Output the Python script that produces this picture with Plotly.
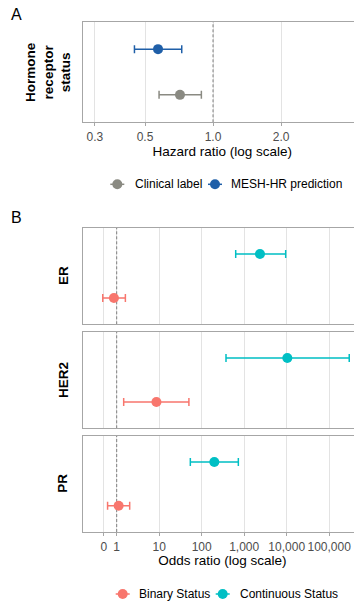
import numpy as np
import plotly.graph_objects as go

# ---- data ----
# Panel A: hazard ratios
a_labels = ["Clinical label", "MESH-HR prediction"]
a_hr = [0.714, 0.571]
a_lo = [0.577, 0.449]
a_hi = [0.888, 0.727]
a_colors = ["#8a8a82", "#1f5fa8"]
a_ticks = [0.3, 0.5, 1.0, 2.0]
a_ticktext = ["0.3", "0.5", "1.0", "2.0"]

# Panel B: odds ratios
b_facets = ["ER", "HER2", "PR"]
b_series = ["Binary Status", "Continuous Status"]
b_or = {"Binary Status": [0.86, 8.6, 1.11], "Continuous Status": [2350, 10350, 198]}
b_lo = {"Binary Status": [0.47, 1.46, 0.61], "Continuous Status": [631, 373, 54]}
b_hi = {"Binary Status": [1.6, 50, 2.02], "Continuous Status": [9460, 296000, 728]}
b_colors = {"Binary Status": "#F8766D", "Continuous Status": "#00BFC4"}
b_ticks = [0.5, 1, 10, 100, 1000, 10000, 100000]
b_ticktext = ["0", "1", "10", "100", "1,000", "10,000", "100,000"]
ref_value = 1

# figure is slightly wider than the window so panels run off the right edge like the reference
H, W = 601, 362
FONT = "Liberation Sans, Arial, sans-serif"


def ydom(top, bot):
    return [1 - bot / H, 1 - top / H]


fig = go.Figure()
axes = [("x", "y"), ("x2", "y2"), ("x3", "y3"), ("x4", "y4")]

# dashed reference line at 1 (drawn first, under points)
for xr, yr in axes:
    fig.add_trace(go.Scatter(x=[ref_value, ref_value], y=[0.4, 2.6], mode="lines",
                             line=dict(color="#808080", width=1, dash="3px,2px"),
                             xaxis=xr, yaxis=yr, showlegend=False, hoverinfo="skip"))

# Panel A traces (y positions: clinical = 1 bottom, MESH = 2 top)
for i, lab in enumerate(a_labels):
    fig.add_trace(go.Scatter(
        x=[a_hr[i]], y=[i + 1], mode="markers", name=lab,
        marker=dict(color=a_colors[i], size=10),
        error_x=dict(type="data", symmetric=False,
                     array=[a_hi[i] - a_hr[i]], arrayminus=[a_hr[i] - a_lo[i]],
                     color=a_colors[i], thickness=1.5, width=4),
        xaxis="x", yaxis="y", showlegend=False,
    ))

# Panel B traces
for f, facet in enumerate(b_facets):
    ax = f + 2
    for s, ser in enumerate(b_series):
        fig.add_trace(go.Scatter(
            x=[b_or[ser][f]], y=[s + 1], mode="markers", name=ser,
            marker=dict(color=b_colors[ser], size=10),
            error_x=dict(type="data", symmetric=False,
                         array=[b_hi[ser][f] - b_or[ser][f]],
                         arrayminus=[b_or[ser][f] - b_lo[ser][f]],
                         color=b_colors[ser], thickness=1.5, width=4),
            xaxis=f"x{ax}", yaxis=f"y{ax}", showlegend=False,
        ))

# custom legend keys on a hidden full-page overlay axis (pixel coordinates)
legend_items = [
    (a_labels[0], a_colors[0], 117.3, 132.7, 184.3),
    (a_labels[1], a_colors[1], 215.0, 228.7, 184.3),
    (b_series[0], b_colors[b_series[0]], 122.7, 137.0, 594.0),
    (b_series[1], b_colors[b_series[1]], 222.7, 237.7, 594.0),
]
for lab, col, mx, tx, yy in legend_items:
    fig.add_trace(go.Scatter(x=[mx - 7, mx + 7], y=[yy, yy], mode="lines",
                             line=dict(color=col, width=1.5),
                             xaxis="x5", yaxis="y5", showlegend=False, hoverinfo="skip"))
    fig.add_trace(go.Scatter(x=[mx], y=[yy], mode="markers",
                             marker=dict(color=col, size=10),
                             xaxis="x5", yaxis="y5", showlegend=False, hoverinfo="skip"))

xdom = [82.7 / W, 1.0]
common_x = dict(type="log", showgrid=True, gridcolor="#e3e3e3", gridwidth=1,
                showline=True, linecolor="#a6a6a6", linewidth=1.2, mirror=True,
                ticks="outside", ticklen=3, tickcolor="#a6a6a6", tickangle=0,
                tickfont=dict(size=12, color="#4d4d4d", family=FONT),
                zeroline=False, domain=xdom, tickmode="array", automargin=False)
common_y = dict(range=[0.4, 2.6], showticklabels=False, showgrid=False,
                showline=True, linecolor="#a6a6a6", linewidth=1.2, mirror=False,
                zeroline=False, ticks="", automargin=False)

lay = dict(
    width=W, height=H, margin=dict(l=0, r=0, t=0, b=0, autoexpand=False),
    paper_bgcolor="white", plot_bgcolor="rgba(0,0,0,0)", showlegend=False,
    font=dict(family=FONT, color="black"),
)
# px/decade: A ~226, B ~42.5
lay["xaxis"] = dict(common_x, range=[np.log10(0.265), (W - 213.0) / 226.0],
                    tickvals=a_ticks, ticktext=a_ticktext, anchor="y",
                    title=dict(text="Hazard ratio (log scale)", font=dict(size=13.5), standoff=0))
lay["yaxis"] = dict(common_y, domain=ydom(21.7, 122.3), anchor="x")
doms = [(227.7, 324.3), (331.7, 428.3), (435.7, 532)]
for f in range(3):
    ax = f + 2
    xd = dict(common_x, range=[-0.8, (W - 116.7) / 42.5], tickvals=b_ticks, anchor=f"y{ax}")
    if ax == 4:
        xd.update(ticktext=b_ticktext,
                  title=dict(text="Odds ratio (log scale)", font=dict(size=13.5), standoff=2))
    else:
        xd.update(showticklabels=False, ticks="")
    lay[f"xaxis{ax}"] = xd
    lay[f"yaxis{ax}"] = dict(common_y, domain=ydom(*doms[f]), anchor=f"x{ax}")
lay["xaxis5"] = dict(domain=[0, 1], range=[0, W], visible=False, anchor="y5", fixedrange=True)
lay["yaxis5"] = dict(domain=[0, 1], range=[H, 0], visible=False, anchor="x5", fixedrange=True)
fig.update_layout(**lay)

ann = [
    dict(text="A", x=16 / W, y=1 - 15 / H, xref="paper", yref="paper", showarrow=False,
         font=dict(size=16), xanchor="center", yanchor="middle"),
    dict(text="B", x=16 / W, y=1 - 217 / H, xref="paper", yref="paper", showarrow=False,
         font=dict(size=16), xanchor="center", yanchor="middle"),
    dict(text="<b>Hormone<br>receptor<br>status</b>", x=48 / W, y=1 - 72 / H, xref="paper", yref="paper",
         showarrow=False, textangle=-90, font=dict(size=13.5), xanchor="center", yanchor="middle"),
]
for f, facet in enumerate(b_facets):
    top, bot = doms[f]
    ann.append(dict(text=f"<b>{facet}</b>", x=63 / W, y=1 - (top + bot) / 2 / H, xref="paper", yref="paper",
                    showarrow=False, textangle=-90, font=dict(size=13.5), xanchor="center", yanchor="middle"))
for lab, col, mx, tx, yy in legend_items:
    ann.append(dict(text=lab, x=tx / W, y=1 - yy / H, xref="paper", yref="paper", showarrow=False,
                    font=dict(size=12), xanchor="left", yanchor="middle"))

fig.update_layout(annotations=ann)

fig.write_html("out.html", config={"displayModeBar": False},
               post_script="document.body.style.margin='0';document.body.style.overflow='hidden';")
